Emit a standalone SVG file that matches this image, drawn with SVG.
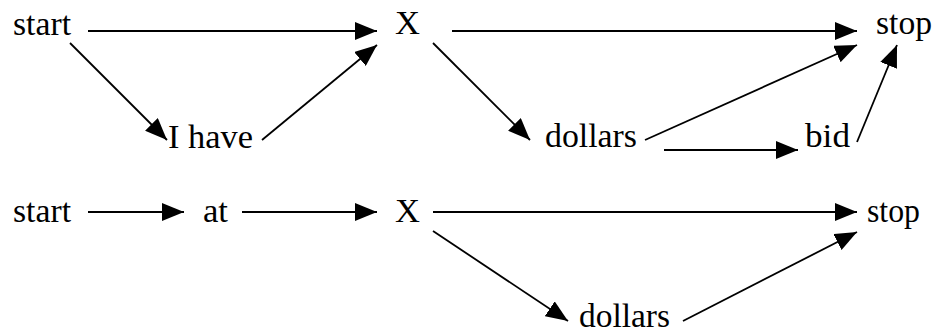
<svg xmlns="http://www.w3.org/2000/svg" width="934" height="335" viewBox="0 0 934 335">
<style>
text{font-family:"Liberation Serif","Times New Roman",Times,serif;font-size:34px;fill:#000}
.e{stroke:#000;stroke-width:1.8;fill:none;marker-end:url(#ah)}
</style>
<defs>
<marker id="ah" markerUnits="userSpaceOnUse" markerWidth="22" markerHeight="18" refX="22" refY="9" orient="auto">
<path d="M0,0 L22,9 L0,18 z" fill="#000"/>
</marker>
</defs>
<rect width="934" height="335" fill="#fff"/>
<g id="connectors">
<line class="e" x1="88" y1="31" x2="377" y2="31"/>
<line class="e" x1="70" y1="43" x2="167" y2="140"/>
<line class="e" x1="262" y1="140" x2="377" y2="45"/>
<line class="e" x1="452" y1="31" x2="857" y2="31"/>
<line class="e" x1="433" y1="43" x2="530" y2="140"/>
<line class="e" x1="645" y1="140" x2="857" y2="45"/>
<line class="e" x1="664" y1="150" x2="798" y2="150"/>
<line class="e" x1="857" y1="142" x2="897" y2="45"/>
<line class="e" x1="88" y1="212" x2="184" y2="212"/>
<line class="e" x1="242" y1="212" x2="377" y2="212"/>
<line class="e" x1="433" y1="212" x2="857" y2="212"/>
<line class="e" x1="433" y1="231" x2="568" y2="321"/>
<line class="e" x1="683" y1="321" x2="857" y2="232"/>
</g>
<g id="start1"><text x="13" y="35" textLength="58" lengthAdjust="spacingAndGlyphs">start</text></g>
<g id="X1"><text x="395" y="34" textLength="25" lengthAdjust="spacingAndGlyphs">X</text></g>
<g id="stop1"><text x="876" y="34" textLength="56" lengthAdjust="spacingAndGlyphs">stop</text></g>
<g id="ihave"><text x="168" y="148" textLength="85" lengthAdjust="spacingAndGlyphs">I have</text></g>
<g id="dollars1"><text x="545" y="147" textLength="92" lengthAdjust="spacingAndGlyphs">dollars</text></g>
<g id="bid"><text x="805" y="147" textLength="45" lengthAdjust="spacingAndGlyphs">bid</text></g>
<g id="start2"><text x="13" y="222" textLength="58" lengthAdjust="spacingAndGlyphs">start</text></g>
<g id="at"><text x="203" y="222" textLength="25" lengthAdjust="spacingAndGlyphs">at</text></g>
<g id="X2"><text x="395" y="222" textLength="25" lengthAdjust="spacingAndGlyphs">X</text></g>
<g id="stop2"><text x="867" y="222" textLength="53" lengthAdjust="spacingAndGlyphs">stop</text></g>
<g id="dollars2"><text x="579" y="327" textLength="91" lengthAdjust="spacingAndGlyphs">dollars</text></g>
</svg>
